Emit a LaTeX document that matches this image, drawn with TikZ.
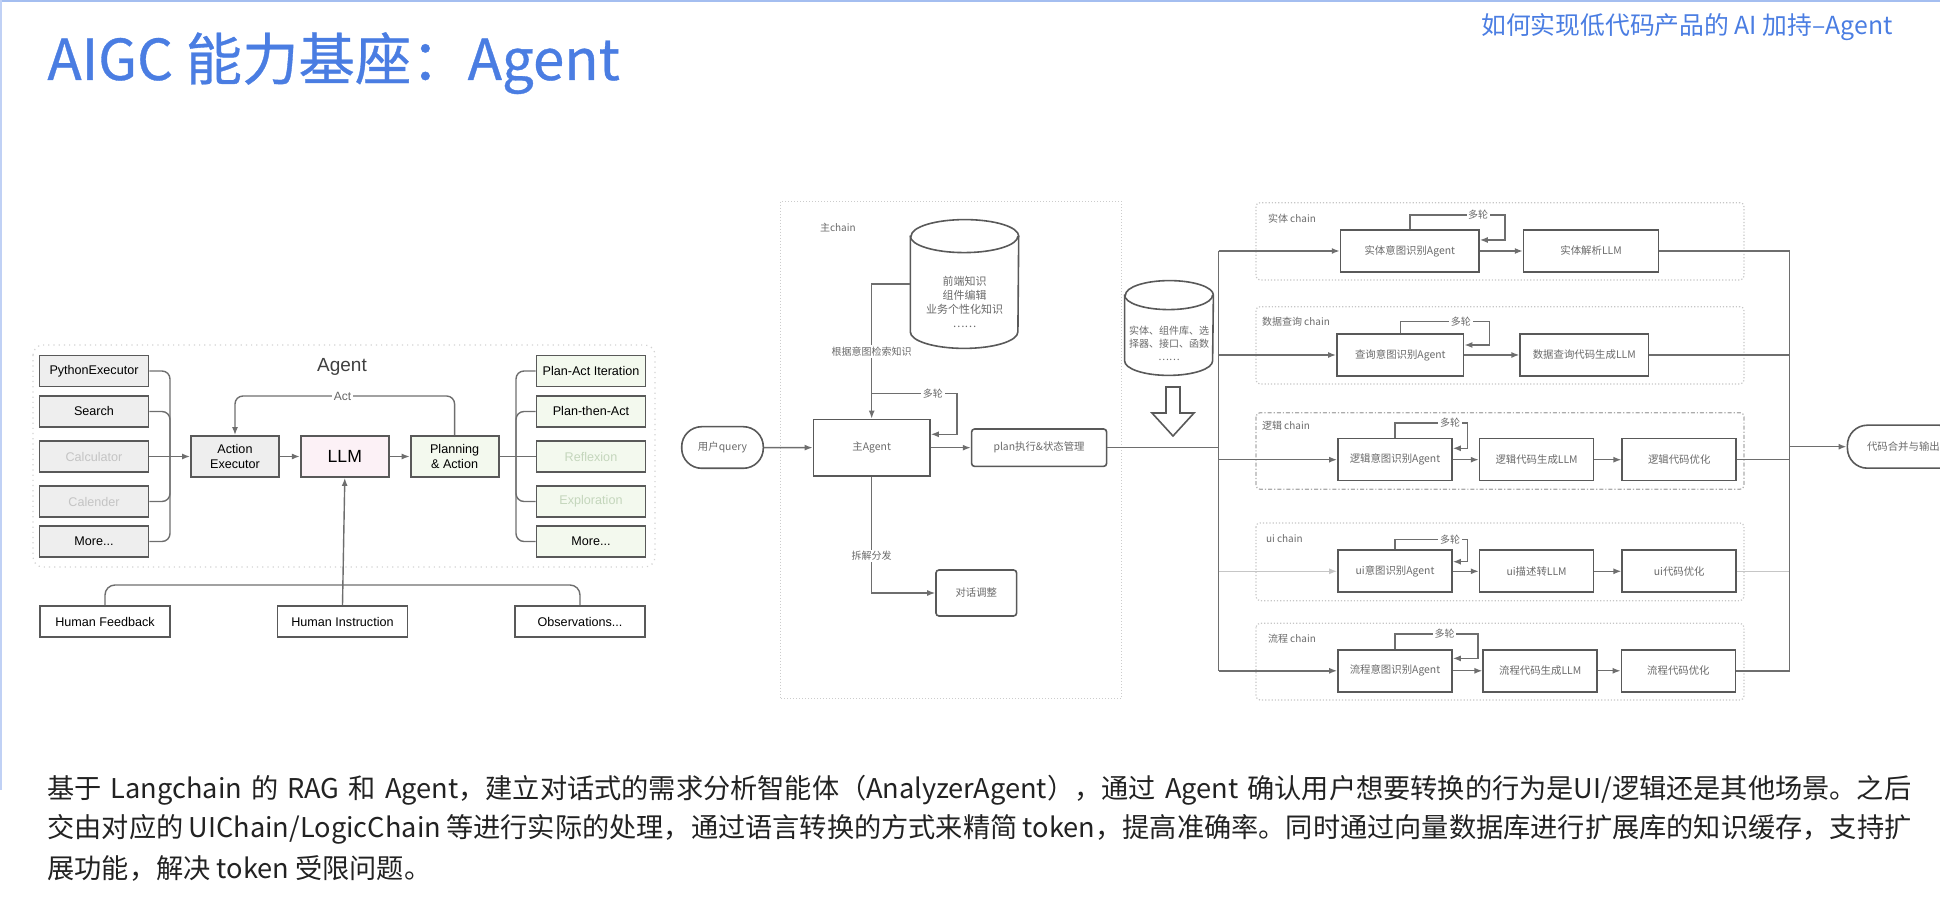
\documentclass[tikz,border=0pt]{standalone}
\usepackage{fontspec}
\setmainfont{Noto Sans CJK SC}
\newfontfamily\arialfont{Liberation Sans}
\newfontfamily\titlefont[FakeBold=0.6]{Noto Sans CJK SC}
\XeTeXlinebreaklocale "zh"
\XeTeXlinebreakskip = 0pt plus 1pt
\usetikzlibrary{positioning}
\usetikzlibrary{arrows.meta}

\definecolor{titleblue}{HTML}{4A7DE2}
\definecolor{edgegray}{HTML}{595959}
\definecolor{linegray}{HTML}{6E6E6E}
\definecolor{toolfill}{HTML}{EEEEEE}
\definecolor{planfill}{HTML}{F3F9EE}
\definecolor{llmfill}{HTML}{FCF1F6}
\definecolor{fadetext}{HTML}{C4C4C4}
\definecolor{fadegreen}{HTML}{C4D6BC}
\definecolor{chaintext}{HTML}{6A6A6A}
\definecolor{paratext}{HTML}{222222}

\begin{document}
\begin{tikzpicture}[x=0.5pt, y=-0.5pt,
    wire/.style={draw=linegray, line width=0.7pt},
    arr/.style={wire, -{Latex[length=4pt, width=3pt]}},
    tool/.style={draw=edgegray, line width=0.9pt, fill=toolfill, minimum width=54.5pt, minimum height=15.5pt, inner sep=0pt, font=\arialfont\fontsize{6.3}{7.2}\selectfont},
    strategy/.style={tool, fill=planfill},
    core/.style={draw=edgegray, line width=0.9pt, minimum width=44pt, minimum height=20.5pt, inner sep=0pt, align=center, font=\arialfont\fontsize{6.3}{7.2}\selectfont},
    human/.style={draw=edgegray, line width=0.8pt, fill=white, minimum width=65pt, minimum height=15.5pt, inner sep=0pt, font=\arialfont\fontsize{6.3}{7.2}\selectfont},
    zhbox/.style={draw=edgegray, line width=0.8pt, fill=white, minimum height=21pt, inner sep=0pt, text=chaintext, font=\fontsize{5.2}{6.2}\selectfont},
    lbl/.style={fill=white, inner sep=0.8pt, text=chaintext, font=\fontsize{5}{6}\selectfont},
    chainframe/.style={draw=gray!45, line width=0.6pt, densely dotted, rounded corners=2pt},
    db/.style={inner sep=0pt},
    dbline/.style={draw=edgegray, line width=0.8pt},
    dbtext/.style={align=center, text=chaintext, inner sep=0pt},
    para/.style={anchor=base west, inner sep=0pt, text=paratext, font=\fontsize{13.6}{20}\selectfont}
]
    \useasboundingbox (0,0) rectangle (1940,924);
    \clip (0,0) rectangle (1940,924);

    \draw[draw=titleblue!50, line width=1.2pt] (0,1.2) -- (1940,1.2);
    \draw[draw=titleblue!35, line width=0.8pt] (0.8,0) -- (0.8,790);

    \node[anchor=base west, inner sep=0pt, text=titleblue, font=\titlefont\fontsize{28.2}{33}\selectfont] (title) at (47,80) {AIGC 能力基座：Agent};
    \node[anchor=base east, inner sep=0pt, text=titleblue, font=\fontsize{12.4}{14}\selectfont] (subtitle) at (1893,35) {如何实现低代码产品的 AI 加持–Agent};

    \draw[draw=gray!35, line width=0.6pt, dotted, rounded corners=5pt] (33,345) rectangle (655,567);
    \node[text=black!75, font=\arialfont\fontsize{9.5}{11}\selectfont] (agentlbl) at (342,367) {Agent};

    \node [tool] (py) at (94,371) {PythonExecutor};
    \node [tool] (search) at (94,411.5) {Search};
    \node [tool, text=fadetext] (calc) at (94,456.5) {Calculator};
    \node [tool, text=fadetext] (cal) at (94,501.5) {Calender};
    \node [tool] (tmore) at (94,541.5) {More...};

    \node [strategy] (pai) at (591,371) {Plan-Act Iteration};
    \node [strategy] (pta) at (591,411.5) {Plan-then-Act};
    \node [strategy, text=fadegreen] (refl) at (591,456.5) {Reflexion};
    \node [strategy, text=fadegreen] (expl) at (591,501.5) {Exploration};
    \node [strategy] (smore) at (591,541.5) {More...};

    \node [core, fill=toolfill] (ae) at (235,456.5) {Action\\Executor};
    \node [core, fill=llmfill, right=10pt of ae, font=\arialfont\fontsize{8.8}{10}\selectfont] (llm) {LLM};
    \node [core, fill=planfill, right=10pt of llm] (pa) {Planning\\\& Action};
    \node [lbl, text=black!60, font=\arialfont\fontsize{6}{7}\selectfont] (act) at (342.5,396) {Act};

    \node [human] (hf) at (105,621.5) {Human Feedback};
    \node [human] (hi) at (342.5,621.5) {Human Instruction};
    \node [human] (obs) at (580,621.5) {Observations...};

    \coordinate (lbrace) at (170,456.5);
    \coordinate (rbrace) at (516,456.5);
    \coordinate (hjoin) at (342.5,585);

    \draw[wire, rounded corners=4pt] (py.east) -| (lbrace);
    \draw[wire, rounded corners=4pt] (search.east) -| (lbrace);
    \draw[wire] (calc.east) -- (lbrace);
    \draw[wire, rounded corners=4pt] (cal.east) -| (lbrace);
    \draw[wire, rounded corners=4pt] (tmore.east) -| (lbrace);
    \draw[arr] (lbrace) -- (ae.west);
    \draw[arr] (ae) -- (llm);
    \draw[arr] (llm) -- (pa);
    \draw[wire, rounded corners=4pt] (pa.north) |- (act.east);
    \draw[arr, rounded corners=4pt] (act.west) -| (ae.north);
    \draw[wire] (pa.east) -- (rbrace);
    \draw[wire, rounded corners=4pt] (rbrace) |- (pai.west);
    \draw[wire, rounded corners=4pt] (rbrace) |- (pta.west);
    \draw[wire] (rbrace) -- (refl.west);
    \draw[wire, rounded corners=4pt] (rbrace) |- (expl.west);
    \draw[wire, rounded corners=4pt] (rbrace) |- (smore.west);
    \draw[arr] (hi.north) -- (llm.south);
    \draw[wire, rounded corners=5pt] (hf.north) |- (hjoin);
    \draw[wire, rounded corners=5pt] (obs.north) |- (hjoin);

    \draw[draw=gray!40, line width=0.5pt, densely dotted] (780,201.7) rectangle (1121.7,698.3);
    \node [lbl, fill=none, anchor=west] (mainlbl) at (818,228) {主chain};

    \node [db, minimum width=53.8pt, minimum height=64pt] (kb) at (964.5,284) {};
    \draw[dbline, fill=white] ([yshift=-8.25pt]kb.north west) -- ([yshift=8.25pt]kb.south west) arc[start angle=180, end angle=360, x radius=26.9pt, y radius=8.25pt] -- ([yshift=-8.25pt]kb.north east) arc[start angle=0, end angle=180, x radius=26.9pt, y radius=8.25pt] -- cycle;
    \draw[dbline] ([yshift=-8.25pt]kb.north west) arc[start angle=180, end angle=360, x radius=26.9pt, y radius=8.25pt];
    \node [dbtext, font=\fontsize{5.5}{7}\selectfont] (kbtext) at (964.5,302) {前端知识\\组件编辑\\业务个性化知识\\……};

    \node [draw=edgegray, line width=0.8pt, rounded corners=10pt, minimum width=40.8pt, minimum height=20.8pt, inner sep=0pt, text=chaintext, font=\fontsize{5.2}{6.2}\selectfont] (uq) at (722.5,447.5) {用户query};
    \node [zhbox, minimum width=58.3pt, minimum height=28.3pt] (main) at (871.7,447.7) {主Agent};
    \node [zhbox, rounded corners=1.5pt, minimum width=67.5pt, minimum height=18.7pt, right=20pt of main] (plan) {plan执行\&状态管理};
    \node [zhbox, rounded corners=1.5pt, minimum width=40.3pt, minimum height=23pt] (adj) at (976.3,593) {对话调整};
    \coordinate (mloop) at (871.7,393.3);

    \draw[arr] (uq) -- (main);
    \draw[arr] (main) -- (plan);
    \draw[arr] (kb.west) -| node[lbl, pos=0.75] {根据意图检索知识} (main.north);
    \draw[arr] (mloop) -| node[lbl, pos=0.36] {多轮} ([xshift=13pt, yshift=6.7pt]main.east) -- ([yshift=6.7pt]main.east);
    \draw[arr] (main.south) |- node[lbl, pos=0.34] {拆解分发} (adj.west);

    \node [db, minimum width=44pt, minimum height=47pt] (ent) at (1169,328) {};
    \draw[dbline, fill=white] ([yshift=-7.25pt]ent.north west) -- ([yshift=7.25pt]ent.south west) arc[start angle=180, end angle=360, x radius=22pt, y radius=7.25pt] -- ([yshift=-7.25pt]ent.north east) arc[start angle=0, end angle=180, x radius=22pt, y radius=7.25pt] -- cycle;
    \draw[dbline] ([yshift=-7.25pt]ent.north west) arc[start angle=180, end angle=360, x radius=22pt, y radius=7.25pt];
    \node [dbtext, font=\fontsize{5}{6.5}\selectfont] (enttext) at (1169,343) {实体、组件库、选\\择器、接口、函数\\……};
    \draw[draw=edgegray, line width=0.8pt, fill=white] (1166,387) -- (1180,387) -- (1180,413) -- (1194,413) -- (1173,436) -- (1152,413) -- (1166,413) -- cycle;

    \draw[chainframe] (1256,202.7) rectangle (1744,280);
    \draw[chainframe] (1256,306.7) rectangle (1744,384);
    \draw[chainframe, draw=gray!65, dash pattern=on 2pt off 1pt on 0.6pt off 1pt] (1256,412.7) rectangle (1744,489.3);
    \draw[chainframe] (1256,523) rectangle (1744,600.7);
    \draw[chainframe] (1256,623.3) rectangle (1744,700);

    \node [lbl, fill=none, anchor=west] (c1lbl) at (1266,218.3) {实体 chain};
    \node [lbl, fill=none, anchor=west] (c2lbl) at (1260,322) {数据查询 chain};
    \node [lbl, fill=none, anchor=west] (c3lbl) at (1260,426) {逻辑 chain};
    \node [lbl, fill=none, anchor=west] (c4lbl) at (1264,538.7) {ui chain};
    \node [lbl, fill=none, anchor=west] (c5lbl) at (1266,638.7) {流程 chain};

    \node [zhbox, minimum width=69.2pt] (ea) at (1409.8,251) {实体意图识别Agent};
    \node [zhbox, minimum width=67.5pt, right=21.5pt of ea] (eb) {实体解析LLM};

    \node [zhbox, minimum width=63.3pt] (da) at (1400.3,355) {查询意图识别Agent};
    \node [zhbox, minimum width=64.1pt, right=27.5pt of da] (db) {数据查询代码生成LLM};

    \node [zhbox, minimum width=57pt] (la) at (1395,459.7) {逻辑意图识别Agent};
    \node [zhbox, minimum width=57pt, right=13pt of la] (lb) {逻辑代码生成LLM};
    \node [zhbox, minimum width=57pt, right=13.5pt of lb] (lc) {逻辑代码优化};

    \node [zhbox, minimum width=57pt] (ua) at (1395,571.3) {ui意图识别Agent};
    \node [zhbox, minimum width=57pt, right=13pt of ua] (ub) {ui描述转LLM};
    \node [zhbox, minimum width=57pt, right=13.5pt of ub] (uc) {ui代码优化};

    \node [zhbox, minimum width=57pt] (fa) at (1395,670.8) {流程意图识别Agent};
    \node [zhbox, minimum width=57pt, right=14.8pt of fa] (fb) {流程代码生成LLM};
    \node [zhbox, minimum width=57pt, right=11.3pt of fb] (fc) {流程代码优化};

    \node [zhbox, rounded corners=10pt, minimum width=56pt, minimum height=21.5pt, anchor=west] (out) at (1846.6,446.7) {代码合并与输出};

    \coordinate (busl) at (1218.6,448);
    \coordinate (busr) at (1789.5,446.7);

    \draw[wire, line width=0.8pt] (plan.east) -- (plan.east -| busl);
    \draw[wire, line width=0.8pt] (ea.west -| busl) -- (fa.west -| busl);
    \draw[arr, line width=0.8pt] (ea.west -| busl) -- (ea.west);
    \draw[arr, line width=0.8pt] (da.west -| busl) -- (da.west);
    \draw[arr, line width=0.8pt] (la.west -| busl) -- (la.west);
    \draw[arr, draw=gray!45] (ua.west -| busl) -- (ua.west);
    \draw[arr, line width=0.8pt] (fa.west -| busl) -- (fa.west);

    \draw[arr] (ea) -- (eb);
    \draw[arr] (da) -- (db);
    \draw[arr] (la) -- (lb);
    \draw[arr] (lb) -- (lc);
    \draw[arr] (ua) -- (ub);
    \draw[arr] (ub) -- (uc);
    \draw[arr] (fa) -- (fb);
    \draw[arr] (fb) -- (fc);

    \draw[arr] (ea.north) |- node[lbl, pos=0.86] {多轮} ([xshift=12.5pt, yshift=7pt]ea.north east) |- ([yshift=5.5pt]ea.east);
    \draw[arr] (da.north) |- node[lbl, pos=0.84] {多轮} ([xshift=12.5pt, yshift=5.7pt]da.north east) |- ([yshift=5pt]da.east);
    \draw[arr] (la.north) |- node[lbl, pos=0.88] {多轮} ([xshift=7.3pt, yshift=7.5pt]la.north east) |- ([yshift=5.7pt]la.east);
    \draw[arr] (ua.north) |- node[lbl, pos=0.88] {多轮} ([xshift=7.3pt, yshift=5pt]ua.north east) |- ([yshift=4.8pt]ua.east);
    \draw[arr] (fa.north) |- node[lbl, pos=0.8] {多轮} ([xshift=12.5pt, yshift=7.5pt]fa.north east) |- ([yshift=6.2pt]fa.east);

    \draw[wire, line width=0.8pt] (eb.east) -- (eb.east -| busr);
    \draw[wire, line width=0.8pt] (db.east) -- (db.east -| busr);
    \draw[wire, line width=0.8pt] (lc.east) -- (lc.east -| busr);
    \draw[wire, draw=gray!45] (uc.east) -- (uc.east -| busr);
    \draw[wire, line width=0.8pt] (fc.east) -- (fc.east -| busr);
    \draw[wire, line width=0.8pt] (eb.east -| busr) -- (fc.east -| busr);
    \draw[arr, line width=0.8pt] (busr) -- (out.west);

    \node [para] (p1) at (47,798.5) {\hbox to 932pt{基于 Langchain 的 RAG 和 Agent，建立对话式的需求分析智能体（AnalyzerAgent），通过 Agent 确认用户想要转换的行为是UI/逻辑还是其他场景。之后}};
    \node [para] (p2) at (47,838) {\hbox to 932pt{交由对应的 UIChain/LogicChain 等进行实际的处理，通过语言转换的方式来精简 token，提高准确率。同时通过向量数据库进行扩展库的知识缓存，支持扩}};
    \node [para] (p3) at (47,878) {展功能，解决 token 受限问题。};
\end{tikzpicture}
\end{document}
